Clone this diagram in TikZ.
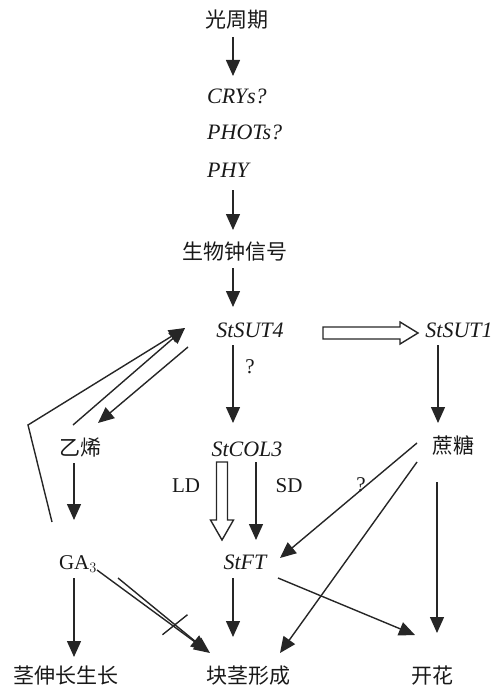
\documentclass[tikz,border=0pt]{standalone}
\usepackage{fontspec}
\setmainfont{Liberation Serif}
\newfontfamily\cjk{Noto Sans CJK SC}
\usetikzlibrary{arrows.meta}
\tikzset{
	arr/.style = {line width=1.4pt, draw=black!85, -{Triangle[length=16pt,width=14pt]}},
	hollow/.style = {line width=1.4pt, draw=black!85, line join=miter},
	txt/.style = {inner sep=0pt, text height=16pt, text depth=0pt, text=black!90},
	zh/.style = {txt, font=\cjk\fontsize{21}{21}\selectfont},
	gene/.style = {txt, font=\fontsize{22}{22}\selectfont\itshape},
	tag/.style = {txt, font=\fontsize{21}{21}\selectfont}
}
\begin{document}
\begin{tikzpicture} [x=1pt, y=-1pt]
	\useasboundingbox (0,0) rectangle (495,687);
	% signal chain
	\node [zh] (light) at (237,20) {光周期};
	\node [gene, anchor=west] (crys) at (207,96) {CRYs?};
	\node [gene, anchor=west] (phots) at (207,132) {PHOTs?};
	\node [gene, anchor=west] (phy) at (207,170) {PHY};
	\node [zh] (clock) at (235,251) {生物钟信号};
	\node [gene] (sut4) at (250,329) {StSUT4};
	\node [gene] (sut1) at (459,329) {StSUT1};
	\node [gene] (col3) at (247,448) {StCOL3};
	\node [zh] (sucrose) at (453,445) {蔗糖};
	\node [zh] (ethylene) at (80,447) {乙烯};
	\node [tag] (ga) at (78,561) {GA$_3$};
	\node [gene] (ft) at (245,561) {StFT};
	\node [zh] (stem) at (66,675) {茎伸长生长};
	\node [zh] (tuber) at (248,675) {块茎形成};
	\node [zh] (flower) at (432,675) {开花};
	% small labels
	\node [tag] (q1) at (250,365) {?};
	\node [tag] (q2) at (361,483) {?};
	\node [tag] (ld) at (186,484) {LD};
	\node [tag] (sd) at (289,484) {SD};
	\coordinate (bend) at (28,425);
	% arrows down the middle
	\draw [arr] ([shift={(-4,17)}]light.center) -- ([shift={(26,-20)}]crys.west);
	\draw [arr] ([shift={(26,20)}]phy.west) -- ([shift={(-2,-21)}]clock.center);
	\draw [arr] ([shift={(-2,17)}]clock.center) -- ([shift={(-17,-22)}]sut4.center);
	\draw [arr] ([shift={(-17,16)}]sut4.center) -- ([shift={(-14,-25)}]col3.center);
	\draw [hollow] ([shift={(73,4)}]sut4.center) ++(0,-6) -- ++(77,0) -- ++(0,-5) -- ++(18,11) -- ++(-18,11) -- ++(0,-5) -- ++(-77,0) -- cycle;
	\draw [arr] ([shift={(-21,16)}]sut1.center) -- ([shift={(-15,-22)}]sucrose.center);
	\draw [hollow] ([shift={(-25,14)}]col3.center) ++(-5.5,0) -- ++(0,58) -- ++(-6,0) -- ++(11.5,20) -- ++(11.5,-20) -- ++(-6,0) -- ++(0,-58) -- cycle;
	\draw [arr] ([shift={(9,14)}]col3.center) -- ([shift={(11,-21)}]ft.center);
	\draw [arr] ([shift={(-12,17)}]ft.center) -- ([shift={(-15,-38)}]tuber.center);
	\draw [arr] ([shift={(33,17)}]ft.center) -- ([shift={(-17,-40)}]flower.center);
	% sucrose
	\draw [arr] ([shift={(-36,-2)}]sucrose.center) -- ([shift={(35,-3)}]ft.center);
	\draw [arr] ([shift={(-36,17)}]sucrose.center) -- ([shift={(32,-22)}]tuber.center);
	\draw [arr] ([shift={(-16,37)}]sucrose.center) -- ([shift={(5,-42)}]flower.center);
	% hormones
	\draw [arr] ([shift={(-7,-22)}]ethylene.center) -- ([shift={(-65,-1)}]sut4.center);
	\draw [arr] ([shift={(-62,18)}]sut4.center) -- ([shift={(18,-24)}]ethylene.center);
	\draw [arr] ([shift={(-26,-39)}]ga.center) -- (bend) -- ([shift={(-65,-1)}]sut4.center);
	\draw [arr] ([shift={(-6,16)}]ethylene.center) -- ([shift={(-4,-41)}]ga.center);
	\draw [arr] ([shift={(-4,17)}]ga.center) -- ([shift={(8,-18)}]stem.center);
	\draw [arr] ([shift={(19,9)}]ga.center) -- ([shift={(-38,-22)}]tuber.center);
	\draw [arr] ([shift={(40,17)}]ga.center) -- coordinate [pos=0.64] (block) ([shift={(-41,-24)}]tuber.center);
	\draw [hollow] (block) ++(-12.5,10) -- ++(25,-20);
\end{tikzpicture}
\end{document}
